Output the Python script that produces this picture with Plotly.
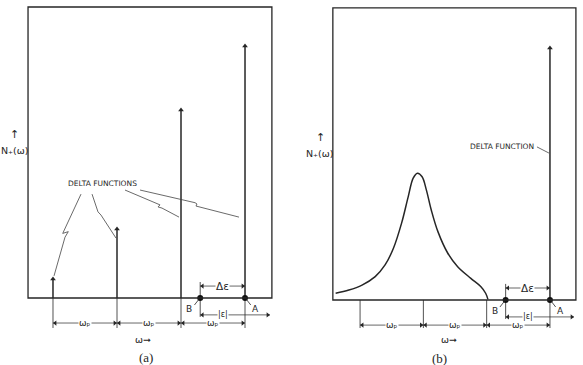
import plotly.graph_objects as go

# ---------------- data (omega in units of omega_p, measured from point A; N as fraction of box height)
OMEGA_P = 1.0
DELTA_EPS = 0.7

A_SPIKE_W = [-3.0, -2.0, -1.0, 0.0]
A_SPIKE_H = [0.065, 0.237, 0.646, 0.866]

B_SPIKE_W = [0.0]
B_SPIKE_H = [0.863]

B_CURVE_W = [-3.386, -3.177, -2.969, -2.761, -2.605, -2.473, -2.344, -2.239, -2.161, -2.094,
             -2.020, -1.953, -1.875, -1.770, -1.614, -1.458, -1.250, -1.094, -1.016, -0.980]
B_CURVE_N = [0.023, 0.034, 0.051, 0.080, 0.120, 0.177, 0.263, 0.354, 0.417, 0.434,
             0.422, 0.377, 0.308, 0.234, 0.160, 0.114, 0.074, 0.046, 0.023, 0.002]

B_DIM_W = [-3.0, -2.0, -1.0, 0.0]   # omega_p dimension stations in panel (b)

LABEL_A = "(a)"
LABEL_B = "(b)"
NLABEL = "N\u208a(ω)"
WP = "ω\u209a"

INK = "#262626"
SANS = "DejaVu Sans"
SERIF = "Liberation Serif"

fig = go.Figure()


def seg(xs, ys, xa, ya, width=1.2, color=INK, shape="linear"):
    fig.add_trace(go.Scatter(x=xs, y=ys, mode="lines", line=dict(color=color, width=width, shape=shape),
                             xaxis=xa, yaxis=ya, hoverinfo="skip", showlegend=False, connectgaps=False))


def txt(x, y, s, xr, yr, size=9, family=SANS, bg=None, color=INK):
    fig.add_annotation(x=x, y=y, xref=xr, yref=yr, text=s, showarrow=False,
                       font=dict(family=family, size=size, color=color),
                       bgcolor=bg, borderpad=0)


def heads(xs, ys, syms, xr, yr, size=5):
    fig.add_trace(go.Scatter(x=xs, y=ys, mode="markers",
                             marker=dict(symbol=syms, size=size, color=INK, line=dict(width=0)),
                             xaxis=xr, yaxis=yr, hoverinfo="skip", showlegend=False))


def dim(x0, x1, y, xr, yr, label=None, size=9):
    seg([x0, x1], [y, y], xr, yr, width=0.7)
    d = 0.035
    heads([x0 + d, x1 - d], [y, y], ["triangle-left", "triangle-right"], xr, yr, size=4.5)
    if label:
        txt((x0 + x1) / 2, y, label, xr, yr, size=size, bg="white")


def panel(xr, yr, box, spikes_w, spikes_h, dims_w, dim_y, ext_low, ylab, wlab, nlab_x):
    # frame
    fig.add_shape(type="rect", xref=xr, yref=yr, x0=box[0], x1=box[1], y0=0, y1=1.0,
                  line=dict(color=INK, width=1.3))
    # spikes (delta functions)
    xs, ys = [], []
    for w, h in zip(spikes_w, spikes_h):
        xs += [w, w, None]
        ys += [0, h, None]
    seg(xs, ys, xr, yr, width=1.5)
    heads(spikes_w, spikes_h, "triangle-up", xr, yr, size=5)
    # extension lines for omega_p dimensions
    xs, ys = [], []
    for w in dims_w:
        xs += [w, w, None]
        ys += [0, ext_low, None]
    seg(xs, ys, xr, yr, width=0.8)
    for w0, w1 in zip(dims_w[:-1], dims_w[1:]):
        dim(w0, w1, dim_y, xr, yr, WP)
    # B and A
    wA = dims_w[-1]
    wB = wA - DELTA_EPS
    seg([wB, wB], [0.055, -0.065], xr, yr, width=0.8)
    dim(wB, wA, 0.041, xr, yr, "Δε", size=10.5)
    dim(wB, box[1] - 0.03, -0.058, xr, yr, None)
    txt((wB + wA) / 2, -0.058, "|ε|", xr, yr, size=8, bg="white")
    fig.add_trace(go.Scatter(x=[wB, wA], y=[0, 0], mode="markers",
                             marker=dict(symbol="circle", size=6, color="#111"),
                             xaxis=xr, yaxis=yr, hoverinfo="skip", showlegend=False))
    seg([wB - 0.09, wB - 0.015], [-0.024, -0.003], xr, yr, width=0.8)
    seg([wA + 0.015, wA + 0.09], [-0.003, -0.024], xr, yr, width=0.8)
    txt(wB - 0.175, -0.038, "B", xr, yr, size=9)
    txt(wA + 0.16, -0.038, "A", xr, yr, size=9)
    # axis labels
    txt(-1.6, wlab, "ω\u279e", xr, yr, size=9.5)
    txt(nlab_x, ylab, NLABEL, xr, yr, size=9.5)
    txt(nlab_x, ylab + 0.056, "\u2191", xr, yr, size=11)


# ---------- panel (a)
xr, yr = "x", "y"
panel(xr, yr, [-3.39, 0.42], A_SPIKE_W, A_SPIKE_H, A_SPIKE_W,
      -0.086, -0.103, 0.506, -0.141, -3.594)
txt(-1.55, -0.206, LABEL_A, xr, yr, size=13, family=SERIF)
txt(-2.22, 0.392, "DELTA FUNCTIONS", xr, yr, size=7.5)
LEADERS_A = [
    ([-2.5625, -2.848, -2.761, -2.8125, -2.984], [0.357, 0.222, 0.228, 0.209, 0.076]),
    ([-2.39, -2.297, -2.25, -2.016], [0.357, 0.296, 0.285, 0.206]),
    ([-1.875, -1.328, -1.359, -1.297, -1.031], [0.371, 0.320, 0.313, 0.309, 0.278]),
    ([-1.64, -0.781, -0.75, -0.766, -0.094], [0.371, 0.3275, 0.323, 0.316, 0.278]),
]
for lx, ly in LEADERS_A:
    seg(lx, ly, xr, yr, width=0.8, color="#444")

# ---------- panel (b)
xr, yr = "x2", "y2"
panel(xr, yr, [-3.43, 0.41], B_SPIKE_W, B_SPIKE_H, B_DIM_W,
      -0.086, -0.096, 0.50, -0.134, -3.633)
seg(B_CURVE_W, B_CURVE_N, xr, yr, width=1.5, shape="spline")
txt(-1.75, -0.199, LABEL_B, xr, yr, size=13, family=SERIF)
txt(-0.758, 0.524, "DELTA FUNCTION", xr, yr, size=7.5)
seg([-0.205, -0.016], [0.524, 0.503], xr, yr, width=0.8, color="#444")

ax_common = dict(visible=False, showgrid=False, zeroline=False, fixedrange=True)
fig.update_layout(
    width=583, height=365, margin=dict(l=0, r=0, t=0, b=0),
    paper_bgcolor="white", plot_bgcolor="white", showlegend=False,
    xaxis=dict(domain=[0, 290 / 583], range=[-3.828, 0.703], **ax_common),
    yaxis=dict(domain=[0, 1], range=[-0.2302, 1.024], anchor="x", **ax_common),
    xaxis2=dict(domain=[290 / 583, 1], range=[-4.107, 0.522], anchor="y2", **ax_common),
    yaxis2=dict(domain=[0, 1], range=[-0.2226, 1.027], anchor="x2", **ax_common),
)

fig.write_html("out.html")
